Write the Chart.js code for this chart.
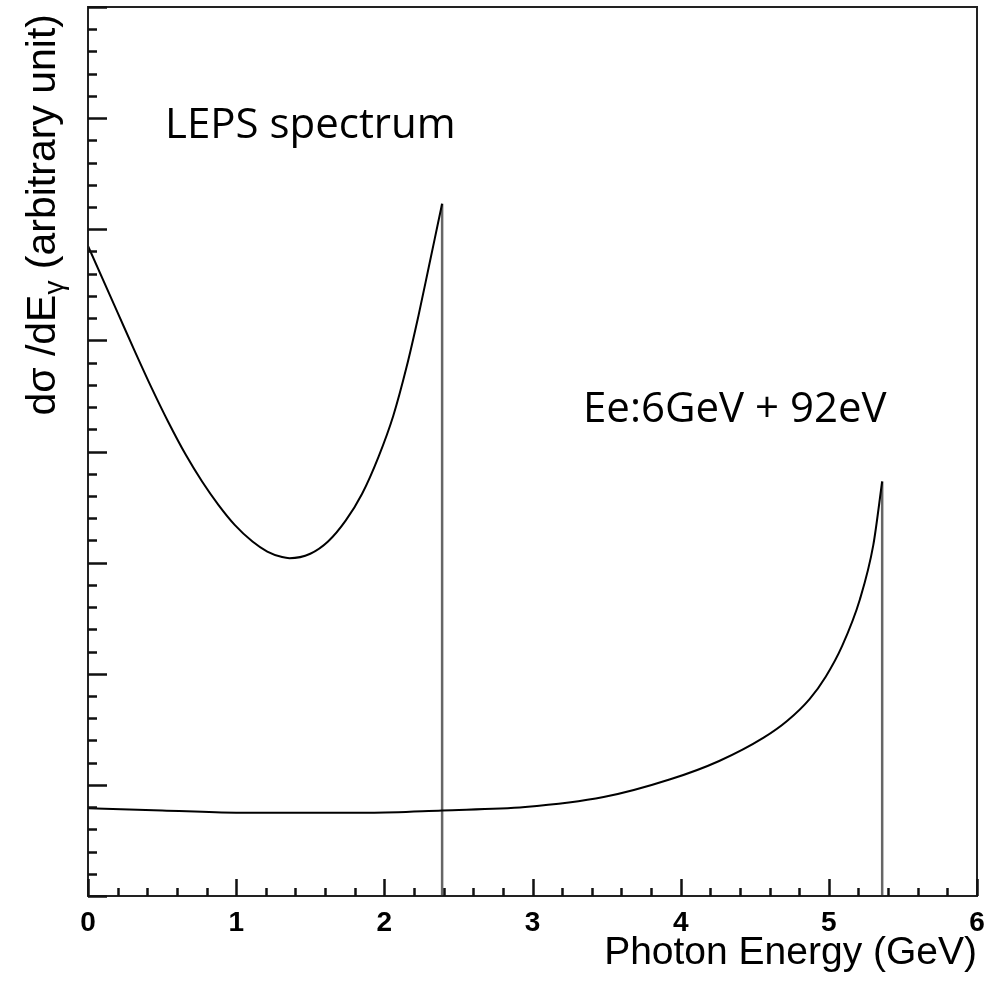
<!DOCTYPE html>
<html>
<head>
<meta charset="utf-8">
<script src="https://cdn.jsdelivr.net/npm/chart.js@4.4.1/dist/chart.umd.min.js"></script>
<style>
  html, body { margin: 0; padding: 0; background: #fff; }
</style>
</head>
<body>
<canvas id="spectrum" width="989" height="981"></canvas>
<script>
// LEPS backward-Compton spectrum
const lepsEnergy = [0.00, 0.20, 0.32, 0.43, 0.54, 0.66, 0.77, 0.88, 0.99, 1.11, 1.21, 1.31, 1.36, 1.50, 1.62, 1.74, 1.85, 1.96, 2.06, 2.15, 2.23, 2.30, 2.36, 2.39];
const lepsValue  = [5.85, 5.25, 4.89, 4.57, 4.27, 3.97, 3.73, 3.52, 3.34, 3.19, 3.10, 3.05, 3.04, 3.08, 3.19, 3.38, 3.62, 3.95, 4.32, 4.76, 5.22, 5.66, 6.04, 6.23];

// Ee = 6 GeV + 92 eV photons
const eeEnergy = [0.00, 0.50, 1.00, 1.50, 1.90, 2.39, 2.95, 3.48, 3.93, 4.26, 4.56, 4.72, 4.87, 4.98, 5.09, 5.21, 5.30, 5.36];
const eeValue  = [0.79, 0.77, 0.75, 0.75, 0.75, 0.77, 0.80, 0.89, 1.05, 1.215, 1.425, 1.577, 1.772, 1.976, 2.251, 2.671, 3.157, 3.73];

// Compton edges (vertical drops)
const edgeEnergy = [2.39, 5.36];
const edgeValue  = [6.23, 3.73];

const xTickLabels = ["0", "1", "2", "3", "4", "5", "6"];
const labelTexts = ["LEPS spectrum", "Ee:6GeV + 92eV"];

function toPoints(xs, ys) {
  return xs.map((x, i) => ({ x: x, y: ys[i] }));
}

function isMajor(v) {
  return Math.abs(v - Math.round(v)) < 1e-6;
}

const curveStyle = {
  showLine: true,
  borderColor: "#000",
  borderWidth: 2,
  pointRadius: 0,
  cubicInterpolationMode: "monotone"
};

let datasets = [
  Object.assign({ data: toPoints(lepsEnergy, lepsValue) }, curveStyle),
  Object.assign({ data: toPoints(eeEnergy, eeValue) }, curveStyle)
];
edgeEnergy.forEach((e, i) => {
  datasets.push({
    data: [{ x: e, y: edgeValue[i] }, { x: e, y: 0 }],
    showLine: true,
    borderColor: "#666",
    borderWidth: 2.5,
    pointRadius: 0
  });
});

/**
 * FRAME, INWARD TICKS, Y TITLE, TEXT LABELS
 */
const decorations = {
  id: "decorations",
  afterDatasetsDraw(chart) {
    const ctx = chart.ctx;
    const a = chart.chartArea;
    const xs = chart.scales.x;
    const ys = chart.scales.y;

    ctx.save();
    ctx.strokeStyle = "#222";
    ctx.lineWidth = 2;
    ctx.strokeRect(a.left, a.top, a.right - a.left, a.bottom - a.top);

    ctx.lineWidth = 2.5;
    ctx.strokeStyle = "#111";
    ctx.beginPath();
    xs.ticks.forEach(t => {
      const px = Math.round(xs.getPixelForValue(t.value)) + 0.5;
      const len = isMajor(t.value) ? 17 : 8;
      ctx.moveTo(px, a.bottom);
      ctx.lineTo(px, a.bottom - len);
    });
    ys.ticks.forEach(t => {
      const py = Math.round(ys.getPixelForValue(t.value)) + 0.5;
      const len = isMajor(t.value) ? 19 : 9;
      ctx.moveTo(a.left, py);
      ctx.lineTo(a.left + len, py);
    });
    ctx.stroke();

    // y axis title with subscript gamma
    const big = '41px "Liberation Sans"';
    const small = '28px "Liberation Sans"';
    const part1 = "d\u03c3 /dE";
    const part2 = "\u03b3";
    const part3 = " (arbitrary unit)";
    ctx.fillStyle = "#000";
    ctx.font = big;
    const w1 = ctx.measureText(part1).width;
    const w3 = ctx.measureText(part3).width;
    ctx.font = small;
    const w2 = ctx.measureText(part2).width;
    const total = w1 + w2 + w3;
    ctx.translate(55, 14 + total);
    ctx.rotate(-Math.PI / 2);
    ctx.textBaseline = "alphabetic";
    ctx.textAlign = "left";
    ctx.font = big;
    ctx.fillText(part1, 0, 0);
    ctx.font = small;
    ctx.fillText(part2, w1, 8);
    ctx.font = big;
    ctx.fillText(part3, w1 + w2, 0);
    ctx.restore();

    // text labels
    ctx.save();
    ctx.fillStyle = "#000";
    ctx.font = '42px "Open Sans"';
    ctx.textBaseline = "alphabetic";
    ctx.fillText(labelTexts[0], 165, 138);
    ctx.fillText(labelTexts[1], 583, 422);
    ctx.restore();
  }
};

new Chart(document.getElementById("spectrum"), {
  type: "scatter",
  data: { datasets: datasets },
  options: {
    responsive: false,
    animation: false,
    layout: { padding: { top: 7, right: 12, left: 0, bottom: 0 } },
    plugins: {
      legend: { display: false },
      tooltip: { enabled: false }
    },
    scales: {
      x: {
        type: "linear",
        min: 0,
        max: 6,
        grid: { display: false, drawTicks: false },
        border: { display: false },
        ticks: {
          stepSize: 0.2,
          autoSkip: false,
          maxRotation: 0,
          padding: 10,
          color: "#000",
          font: { family: "Liberation Sans", size: 28, weight: "bold" },
          callback: v => isMajor(v) ? xTickLabels[Math.round(v)] : ""
        },
        title: {
          display: true,
          text: "Photon Energy (GeV)",
          align: "end",
          color: "#000",
          font: { family: "Liberation Sans", size: 39 },
          padding: { top: 0, bottom: 4 }
        },
        afterFit: s => {
          s.height = 85;
          s.paddingLeft = 0;
          s.paddingRight = 0;
        }
      },
      y: {
        type: "linear",
        min: 0,
        max: 8,
        grid: { display: false, drawTicks: false },
        border: { display: false },
        ticks: { stepSize: 0.2, autoSkip: false, display: false },
        afterFit: s => { s.width = 88; }
      }
    }
  },
  plugins: [decorations]
});
</script>
</body>
</html>
